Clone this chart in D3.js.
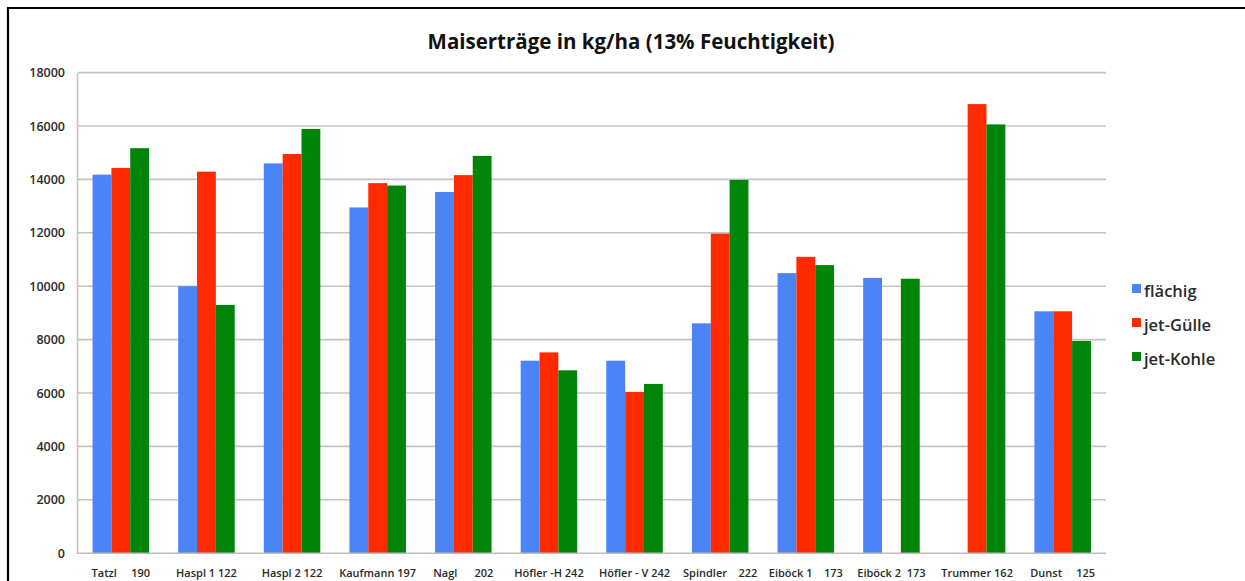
<!DOCTYPE html>
<html>
<head>
<meta charset="utf-8">
<script src="https://cdn.jsdelivr.net/npm/d3@7"></script>
<style>
  body { margin: 0; background: #fff; }
  svg { display: block; font-family: "Open Sans", sans-serif; }
</style>
</head>
<body>
<svg id="chart" width="1245" height="581"></svg>
<script>
// data (kg/ha)
var categories = ["Tatzl", "Haspl 1", "Haspl 2", "Kaufmann", "Nagl", "Höfler -H",
    "Höfler - V", "Spindler", "Eiböck 1", "Eiböck 2", "Trummer", "Dunst"];
var xLabels = ["Tatzl     190", "Haspl 1 122", "Haspl 2 122", "Kaufmann 197", "Nagl      202",
    "Höfler -H 242", "Höfler - V 242", "Spindler    222", "Eiböck 1    173", "Eiböck 2  173",
    "Trummer 162", "Dunst     125"];
var flaechig  = [14180, 10000, 14600, 12950, 13530, 7210, 7210, 8610, 10490, 10310, null, 9060];
var jetGuelle = [14430, 14290, 14950, 13860, 14160, 7520, 6040, 11970, 11100, null, 16820, 9060];
var jetKohle  = [15170, 9300, 15890, 13770, 14880, 6850, 6340, 13980, 10790, 10280, 16060, 7950];
var seriesNames = ["flächig", "jet-Gülle", "jet-Kohle"];
var seriesColors = ["#4a84f6", "#ff2a00", "#00850a"];
var yTicks = [0, 2000, 4000, 6000, 8000, 10000, 12000, 14000, 16000, 18000];

var svg = d3.select("#chart");
var x0 = 78, x1 = 1105.5, yBottom = 553.2, yTop = 72.6;

var x = d3.scaleBand().domain(categories).range([x0, x1])
    .paddingInner(0.34).paddingOuter(0.17);
var xs = d3.scaleBand().domain(seriesNames).range([0, x.bandwidth()]);
var y = d3.scaleLinear().domain([0, 18000]).range([yBottom, yTop]);

// frame (only left and top edges are visible)
svg.append("path")
    .attr("d", "M8,581V8H1245")
    .attr("fill", "none")
    .attr("stroke", "#000")
    .attr("stroke-width", 2.2);

// title
svg.append("text")
    .attr("x", 631).attr("y", 49)
    .attr("text-anchor", "middle")
    .style("font-size", "20.5px").style("font-weight", 700)
    .attr("fill", "#111")
    .text("Maiserträge in kg/ha (13% Feuchtigkeit)");

// grid
svg.append("g").selectAll("line")
    .data(yTicks.filter(function (d) { return d > 0; }))
    .enter().append("line")
    .attr("x1", x0).attr("x2", 1106)
    .attr("y1", function (d) { return y(d); })
    .attr("y2", function (d) { return y(d); })
    .attr("stroke", "#c4c4c4")
    .attr("stroke-width", 1.6);

// y axis labels
var yAxis = d3.axisLeft(y).tickValues(yTicks).tickSize(0).tickPadding(12)
    .tickFormat(d3.format("d"));
var gy = svg.append("g").attr("transform", "translate(" + (x0 - 1) + ",0)").call(yAxis);
gy.select(".domain").attr("stroke", "#c4c4c4").attr("stroke-width", 1.6);
gy.selectAll("text")
    .style("font-family", "Open Sans")
    .style("font-size", "12.5px").style("font-weight", 600)
    .attr("fill", "#2a2a2a");

// bars
var rows = categories.map(function (c, i) {
    return { cat: c, vals: [flaechig[i], jetGuelle[i], jetKohle[i]] };
});
var groups = svg.append("g").selectAll("g")
    .data(rows).enter().append("g")
    .attr("transform", function (d) { return "translate(" + x(d.cat) + ",0)"; });
groups.selectAll("rect")
    .data(function (d) {
        return d.vals.map(function (v, k) { return { key: seriesNames[k], k: k, v: v }; })
            .filter(function (e) { return e.v != null; });
    })
    .enter().append("rect")
    .attr("x", function (d) { return xs(d.key); })
    .attr("width", xs.bandwidth())
    .attr("y", function (d) { return y(d.v); })
    .attr("height", function (d) { return yBottom - y(d.v); })
    .attr("fill", function (d) { return seriesColors[d.k]; });

// baseline
svg.append("line")
    .attr("x1", x0 - 1).attr("x2", 1106)
    .attr("y1", yBottom).attr("y2", yBottom)
    .attr("stroke", "#bdbdbd").attr("stroke-width", 1.6);

// x labels, centred under each group
svg.append("g").selectAll("text")
    .data(categories).enter().append("text")
    .attr("x", function (d) { return x(d) + x.bandwidth() / 2; })
    .attr("y", 577)
    .attr("text-anchor", "middle")
    .style("white-space", "pre")
    .style("font-size", "11px").style("font-weight", 600)
    .attr("fill", "#2a2a2a")
    .text(function (d, i) { return xLabels[i]; });

// legend
var legend = svg.append("g").attr("transform", "translate(1132,284)");
var li = legend.selectAll("g").data(seriesNames).enter().append("g")
    .attr("transform", function (d, i) { return "translate(0," + (i * 34) + ")"; });
li.append("rect")
    .attr("width", 9).attr("height", 9)
    .attr("fill", function (d, i) { return seriesColors[i]; });
li.append("text")
    .attr("x", 12).attr("y", 13)
    .style("font-size", "16.5px").style("font-weight", 600)
    .attr("fill", "#2a2a2a")
    .text(function (d) { return d; });
</script>
</body>
</html>
